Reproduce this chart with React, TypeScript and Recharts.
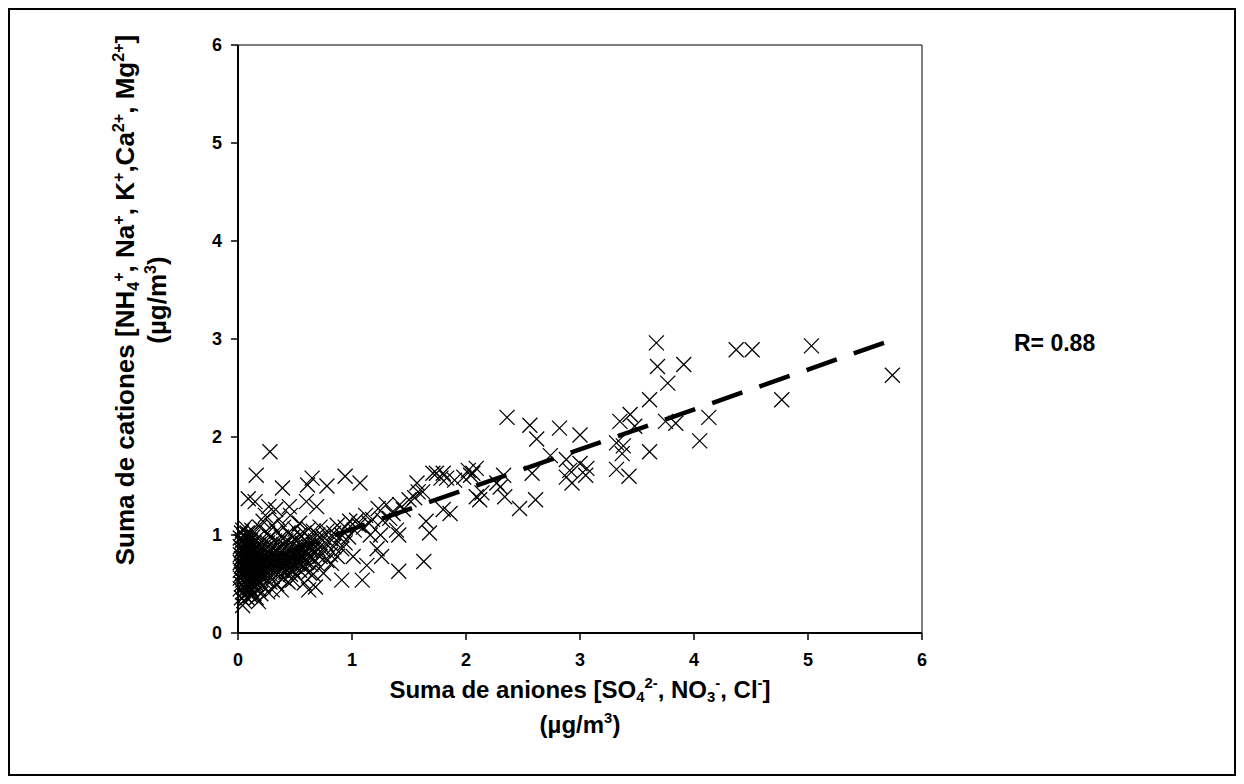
import { ScatterChart, Scatter, XAxis, YAxis, ReferenceLine } from 'recharts';

const FONT = '"Liberation Sans", Arial, sans-serif';

const xTicks = [0, 1, 2, 3, 4, 5, 6];
const yTicks = [0, 1, 2, 3, 4, 5, 6];

// Dense column of samples near zero anions
const denseCluster: [number, number][] = [
  [0.02, 0.45], [0.02, 0.56], [0.02, 0.64], [0.02, 0.72], [0.02, 0.8], [0.02, 0.88], [0.02, 0.97],
  [0.03, 0.36], [0.03, 0.5], [0.03, 0.6], [0.03, 0.68], [0.03, 0.76], [0.03, 0.84], [0.03, 0.93], [0.03, 1.02],
  [0.04, 0.28], [0.04, 0.42], [0.04, 0.54], [0.04, 0.62], [0.04, 0.7], [0.04, 0.78], [0.04, 0.86], [0.04, 0.95], [0.04, 1.05],
  [0.05, 0.33], [0.05, 0.47], [0.05, 0.58], [0.05, 0.66], [0.05, 0.74], [0.05, 0.82], [0.05, 0.9], [0.05, 0.99],
  [0.06, 0.38], [0.06, 0.52], [0.06, 0.61], [0.06, 0.69], [0.06, 0.77], [0.06, 0.85], [0.06, 0.93], [0.06, 1.08],
  [0.07, 0.44], [0.07, 0.55], [0.07, 0.64], [0.07, 0.72], [0.07, 0.8], [0.07, 0.88], [0.07, 0.97],
  [0.08, 0.36], [0.08, 0.49], [0.08, 0.59], [0.08, 0.67], [0.08, 0.75], [0.08, 0.83], [0.08, 0.91], [0.08, 1.02],
  [0.09, 0.42], [0.09, 0.53], [0.09, 0.62], [0.09, 0.7], [0.09, 0.78], [0.09, 0.87], [0.09, 0.95], [0.09, 1.37],
  [0.1, 0.46], [0.1, 0.57], [0.1, 0.65], [0.1, 0.74], [0.1, 0.82], [0.1, 0.9], [0.1, 1.0],
  [0.11, 0.38], [0.11, 0.51], [0.11, 0.6], [0.11, 0.69], [0.11, 0.77], [0.11, 0.86], [0.11, 0.94],
  [0.12, 0.44], [0.12, 0.55], [0.12, 0.64], [0.12, 0.72], [0.12, 0.81], [0.12, 0.89], [0.12, 1.05],
  [0.13, 0.48], [0.13, 0.59], [0.13, 0.68], [0.13, 0.76], [0.13, 0.85], [0.13, 0.98],
  [0.14, 0.4], [0.14, 0.53], [0.14, 0.62], [0.14, 0.71], [0.14, 0.8], [0.14, 0.92],
  [0.15, 0.46], [0.15, 0.57], [0.15, 0.66], [0.15, 0.75], [0.15, 0.84], [0.15, 1.34],
  [0.16, 0.36], [0.16, 0.5], [0.16, 0.61], [0.16, 0.7], [0.16, 0.79], [0.16, 0.88], [0.16, 1.61],
  [0.17, 0.55], [0.17, 0.65], [0.17, 0.74], [0.17, 0.83], [0.17, 0.97],
  [0.18, 0.32], [0.18, 0.45], [0.18, 0.6], [0.18, 0.69], [0.18, 0.78], [0.18, 0.9],
  [0.19, 0.52], [0.19, 0.64], [0.19, 0.73], [0.19, 0.82], [0.19, 1.08],
  [0.2, 0.4], [0.2, 0.58], [0.2, 0.68], [0.2, 0.77], [0.2, 0.87],
];

// Band between 0.2 and 1.0
const lowBand: [number, number][] = [
  [0.22, 0.48], [0.22, 0.62], [0.22, 0.72], [0.22, 0.82], [0.22, 0.94], [0.22, 1.14],
  [0.24, 0.55], [0.24, 0.66], [0.24, 0.76], [0.24, 0.86], [0.24, 1.2],
  [0.26, 0.42], [0.26, 0.6], [0.26, 0.7], [0.26, 0.8], [0.26, 0.92], [0.26, 1.02],
  [0.27, 1.29], [0.28, 1.85],
  [0.28, 0.52], [0.28, 0.64], [0.28, 0.74], [0.28, 0.84], [0.28, 0.98],
  [0.3, 0.44], [0.3, 0.58], [0.3, 0.68], [0.3, 0.78], [0.3, 0.88], [0.3, 1.1],
  [0.32, 0.62], [0.32, 0.72], [0.32, 0.82], [0.32, 0.94], [0.33, 1.26],
  [0.34, 0.5], [0.34, 0.66], [0.34, 0.76], [0.34, 0.86], [0.34, 1.04],
  [0.36, 0.58], [0.36, 0.7], [0.36, 0.8], [0.36, 0.92], [0.36, 1.16],
  [0.38, 0.44], [0.38, 0.64], [0.38, 0.74], [0.38, 0.84], [0.38, 0.98], [0.39, 1.48],
  [0.4, 0.56], [0.4, 0.68], [0.4, 0.78], [0.4, 0.9], [0.4, 1.08],
  [0.42, 0.62], [0.42, 0.72], [0.42, 0.82], [0.42, 0.94],
  [0.44, 0.52], [0.44, 0.66], [0.44, 0.76], [0.44, 0.86], [0.44, 1.02], [0.45, 1.29],
  [0.46, 0.6], [0.46, 0.7], [0.46, 0.8], [0.46, 0.92], [0.46, 1.2],
  [0.48, 0.54], [0.48, 0.64], [0.48, 0.74], [0.48, 0.84], [0.48, 0.98],
  [0.5, 0.68], [0.5, 0.78], [0.5, 0.88], [0.5, 1.06],
  [0.52, 0.58], [0.52, 0.72], [0.52, 0.82], [0.52, 0.94],
  [0.54, 0.64], [0.54, 0.76], [0.54, 0.86], [0.54, 1.0], [0.54, 1.12],
  [0.56, 0.7], [0.56, 0.8], [0.56, 0.92],
  [0.58, 0.51], [0.58, 0.66], [0.58, 0.76], [0.58, 0.86], [0.58, 1.02],
  [0.6, 0.72], [0.6, 0.82], [0.6, 0.94], [0.6, 1.34], [0.61, 1.51],
  [0.62, 0.44], [0.62, 0.62], [0.62, 0.78], [0.62, 0.88], [0.62, 1.06],
  [0.64, 0.7], [0.64, 0.84], [0.64, 0.96], [0.65, 1.58],
  [0.66, 0.6], [0.66, 0.76], [0.66, 0.9], [0.66, 1.04],
  [0.68, 0.47], [0.68, 0.82], [0.68, 0.94], [0.69, 1.29],
  [0.7, 0.7], [0.7, 0.86], [0.7, 1.0],
  [0.72, 0.78], [0.72, 0.92], [0.72, 1.08],
  [0.75, 0.61], [0.75, 0.84], [0.75, 0.98],
  [0.78, 0.74], [0.78, 0.9], [0.78, 1.04], [0.78, 1.5],
  [0.81, 0.8], [0.81, 0.96], [0.82, 0.71],
  [0.84, 0.88], [0.84, 1.02],
  [0.87, 0.78], [0.87, 0.94], [0.87, 1.1],
  [0.91, 0.54], [0.91, 0.86], [0.91, 1.0],
  [0.94, 0.92], [0.94, 1.08], [0.94, 1.6],
  [0.97, 0.98], [0.98, 1.14],
];

// 1.0 - 2.2
const midBand: [number, number][] = [
  [1.01, 0.78], [1.02, 1.05], [1.04, 1.15], [1.06, 1.1], [1.07, 1.53], [1.09, 0.54], [1.1, 1.08],
  [1.12, 1.2], [1.13, 0.69], [1.15, 1.12], [1.16, 1.0], [1.18, 1.16], [1.22, 0.86], [1.23, 1.27],
  [1.25, 1.0], [1.26, 0.78], [1.27, 1.15], [1.3, 1.31], [1.33, 1.17], [1.36, 1.22], [1.39, 1.05],
  [1.41, 1.0], [1.41, 0.63], [1.42, 1.31], [1.45, 1.26], [1.5, 1.36], [1.55, 1.38], [1.57, 1.53],
  [1.58, 1.44], [1.62, 1.44], [1.63, 0.73], [1.65, 1.14], [1.68, 1.02], [1.71, 1.63], [1.74, 1.63],
  [1.78, 1.58], [1.8, 1.26], [1.8, 1.63], [1.83, 1.58], [1.86, 1.22], [1.9, 1.56], [1.98, 1.59],
  [2.02, 1.66], [2.04, 1.61], [2.06, 1.63], [2.09, 1.39], [2.09, 1.68], [2.12, 1.36], [2.14, 1.43],
];

// sparse high samples
const highPoints: [number, number][] = [
  [2.27, 1.53], [2.3, 1.49], [2.33, 1.61], [2.34, 1.39], [2.36, 2.2], [2.47, 1.27], [2.56, 2.12],
  [2.58, 1.63], [2.61, 1.36], [2.62, 1.98], [2.74, 1.81], [2.82, 2.09], [2.88, 1.77], [2.88, 1.59],
  [2.91, 1.66], [2.93, 1.53], [3.0, 2.02], [3.0, 1.73], [3.06, 1.68], [3.05, 1.61], [3.32, 1.94],
  [3.32, 1.67], [3.35, 2.16], [3.37, 1.83], [3.38, 1.91], [3.43, 1.6], [3.44, 2.23], [3.48, 2.11],
  [3.61, 2.38], [3.61, 1.85], [3.67, 2.96], [3.68, 2.72], [3.75, 2.16], [3.77, 2.55], [3.84, 2.14],
  [3.91, 2.74], [4.05, 1.96], [4.13, 2.2], [4.37, 2.89], [4.51, 2.89], [4.77, 2.38], [5.03, 2.93],
  [5.74, 2.63],
];

// linear fit endpoints
const trendX = [0.02, 5.74];
const trendY = [0.66, 2.99];

const points = [...denseCluster, ...lowBand, ...midBand, ...highPoints].map(([x, y]) => ({ x, y }));

function XMark(props: any) {
  const { cx, cy } = props;
  if (cx == null || cy == null) return null;
  const r = 7.5;
  return (
    <g stroke="#000" strokeWidth={1.25}>
      <line x1={cx - r} y1={cy - r} x2={cx + r} y2={cy + r} />
      <line x1={cx - r} y1={cy + r} x2={cx + r} y2={cy - r} />
    </g>
  );
}

const supStyle = { fontSize: '0.62em', position: 'relative' as const, top: '-0.65em' };
const subStyle = { fontSize: '0.62em', position: 'relative' as const, top: '0.3em' };

const tickStyle = { fontSize: 18, fontWeight: 'bold', fill: '#000', fontFamily: FONT };

export default function App() {
  return (
    <div
      style={{
        width: 1228,
        height: 768,
        border: '2px solid #000',
        boxSizing: 'border-box',
        position: 'relative',
        background: '#fff',
        fontFamily: FONT,
      }}
    >
      <div style={{ position: 'absolute', left: -10, top: -10, width: 1244, height: 784 }}>
        <ScatterChart width={1244} height={784} margin={{ top: 45, right: 322, bottom: 111, left: 178 }}>
          <XAxis
            type="number"
            dataKey="x"
            domain={[0, 6]}
            ticks={xTicks}
            interval={0}
            height={40}
            fontSize={18}
            axisLine={{ stroke: '#000', strokeWidth: 2 }}
            tickLine={{ stroke: '#000', strokeWidth: 1.5 }}
            tickSize={7}
            tickMargin={13}
            tick={tickStyle}
          />
          <YAxis
            type="number"
            dataKey="y"
            domain={[0, 6]}
            ticks={yTicks}
            interval={0}
            width={60}
            fontSize={18}
            axisLine={{ stroke: '#000', strokeWidth: 2 }}
            tickLine={{ stroke: '#000', strokeWidth: 1.5 }}
            tickSize={7}
            tickMargin={9}
            tick={tickStyle}
          />
          <ReferenceLine y={6} stroke="#000" strokeWidth={1} />
          <ReferenceLine x={6} stroke="#000" strokeWidth={1} />
          <Scatter data={points} shape={XMark} isAnimationActive={false} />
          <ReferenceLine
            segment={[
              { x: trendX[0], y: trendY[0] },
              { x: trendX[1], y: trendY[1] },
            ]}
            stroke="#000"
            strokeWidth={4.5}
            strokeDasharray="32 18"
          />
        </ScatterChart>

        {/* y axis title */}
        <div
          style={{
            position: 'absolute',
            left: 143,
            top: 300,
            width: 680,
            transform: 'translate(-50%, -50%) rotate(-90deg)',
            textAlign: 'center',
            fontWeight: 'bold',
            fontSize: 26,
            lineHeight: '29px',
          }}
        >
          <div>
            Suma de cationes [NH<span style={subStyle}>4</span>
            <span style={supStyle}>+</span>, Na<span style={supStyle}>+</span>, K
            <span style={supStyle}>+</span>,Ca<span style={supStyle}>2+</span>, Mg
            <span style={supStyle}>2+</span>]
          </div>
          <div>
            (µg/m<span style={supStyle}>3</span>)
          </div>
        </div>

        {/* x axis title */}
        <div
          style={{
            position: 'absolute',
            left: 280,
            top: 674,
            width: 600,
            textAlign: 'center',
            fontWeight: 'bold',
            fontSize: 24,
            lineHeight: '31px',
          }}
        >
          <div>
            Suma de aniones [SO<span style={subStyle}>4</span>
            <span style={supStyle}>2-</span>, NO<span style={subStyle}>3</span>
            <span style={supStyle}>-</span>, Cl<span style={supStyle}>-</span>]
          </div>
          <div>
            (µg/m<span style={supStyle}>3</span>)
          </div>
        </div>

        <div
          style={{
            position: 'absolute',
            left: 1014,
            top: 330,
            fontWeight: 'bold',
            fontSize: 23,
            whiteSpace: 'nowrap',
          }}
        >
          R= 0.88
        </div>
      </div>
    </div>
  );
}
